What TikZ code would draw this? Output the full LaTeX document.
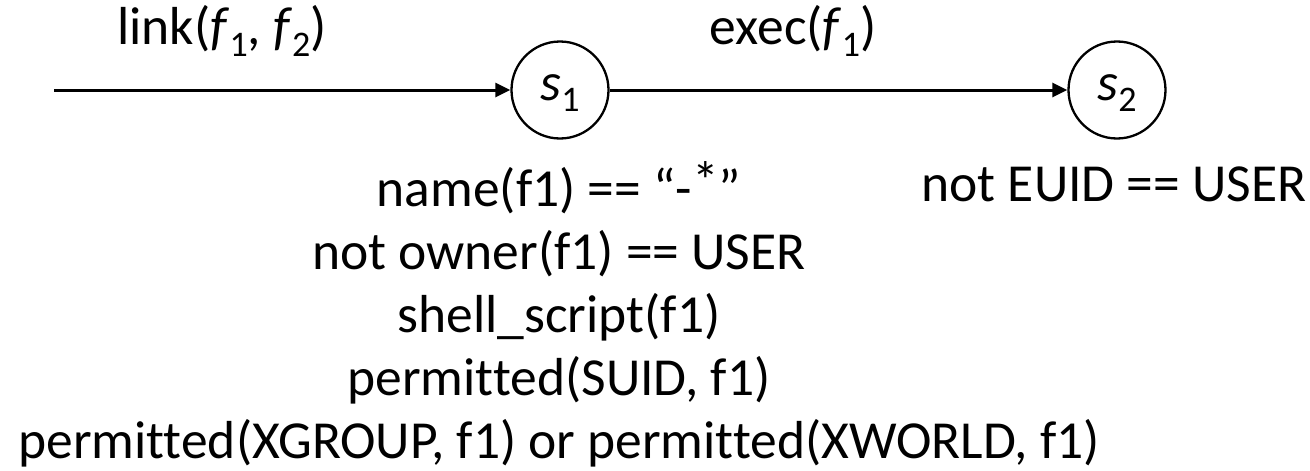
\documentclass[tikz,border=0pt]{standalone}
\usepackage{fontspec}
\setmainfont[Ligatures=NoCommon]{Carlito}
\usetikzlibrary{arrows.meta}
\newcommand\mysb[1]{\raisebox{-0.22em}{\fontsize{36}{36}\selectfont #1}}
\tikzset{
  state/.style={circle,draw,line width=2.3pt,minimum size=97pt,inner sep=0pt,
    text height=30pt,text depth=10pt,font=\fontsize{53.5}{64}\selectfont},
  lbl/.style={anchor=base,inner sep=0pt,font=\fontsize{53.5}{64}\selectfont},
  trans/.style={line width=3pt,-{Triangle[length=15pt,width=14pt]}}
}
\begin{document}
\begin{tikzpicture}[x=1pt,y=-1pt]
\useasboundingbox (0,0) rectangle (1310,471);
\coordinate (start) at (54,90);
\node[state] (s1) at (560,90) {\textit{s}\mysb{1}};
\node[state] (s2) at (1117,90) {\textit{s}\mysb{2}};
\draw[trans] (start) -- (s1);
\draw[trans] (s1) -- (s2);
\node[lbl] (l1) at (222,45) {link(\textit{f}\mysb{1}, \textit{f}\mysb{2})};
\node[lbl] (l2) at (793,45) {exec(\textit{f}\mysb{1})};
\node[lbl] (c1) at (559,206) {name(f1) == “-\raisebox{0.12em}{*}”};
\node[lbl] (c2) at (559,269) {not owner(f1) == USER};
\node[lbl] (c3) at (559,332) {shell\_script(f1)};
\node[lbl] (c4) at (559,395) {permitted(SUID, f1)};
\node[lbl] (c5) at (559,458) {permitted(XGROUP, f1) or permitted(XWORLD, f1)};
\node[lbl] (d1) at (1114,201) {not EUID == USER};
\end{tikzpicture}
\end{document}
